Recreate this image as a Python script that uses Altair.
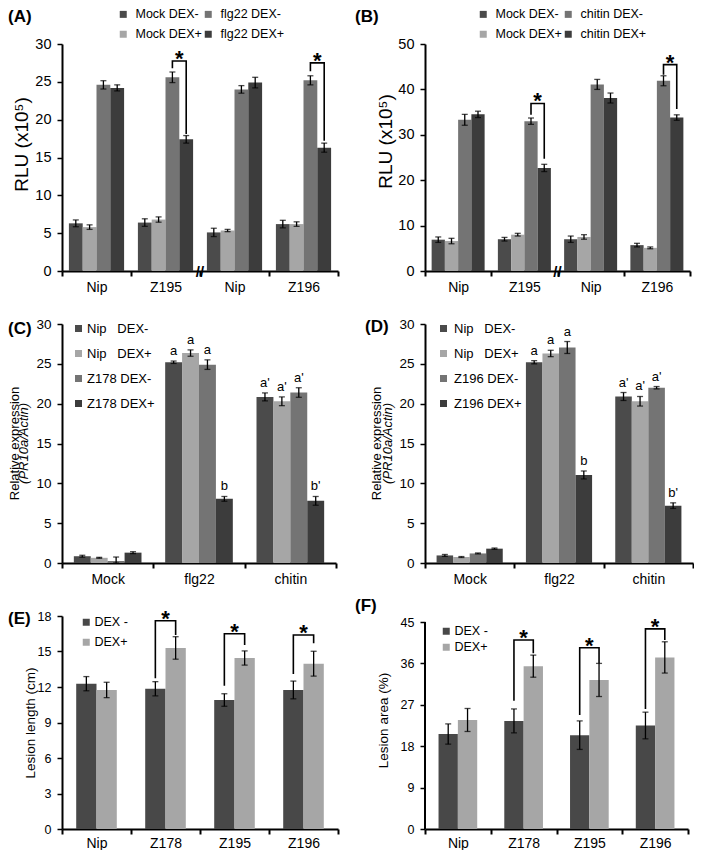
import altair as alt
import pandas as pd

FONT = "Liberation Sans"
NB = "\u00a0"

# ---------------- data ----------------
A_groups = ["Nip", "Z195", "Nip", "Z196"]
A_series = ["Mock DEX-", "Mock DEX+", "flg22 DEX-", "flg22 DEX+"]
A_values = [[6.3, 5.8, 24.6, 24.2], [6.4, 6.8, 25.6, 17.4],
            [5.1, 5.35, 24.0, 24.9], [6.2, 6.2, 25.2, 16.3]]
A_errors = [[0.45, 0.3, 0.55, 0.4], [0.5, 0.35, 0.7, 0.5],
            [0.55, 0.15, 0.5, 0.7], [0.5, 0.3, 0.6, 0.6]]
A_brackets = [(1, 2, 3, 26.8, 27.75, 18.1), (3, 2, 3, 26.4, 27.5, 17.2)]

B_groups = ["Nip", "Z195", "Nip", "Z196"]
B_series = ["Mock DEX-", "Mock DEX+", "chitin DEX-", "chitin DEX+"]
B_values = [[6.9, 6.6, 33.3, 34.5], [7.0, 8.0, 33.0, 22.7],
            [7.0, 7.5, 41.1, 38.1], [5.7, 5.1, 41.9, 33.8]]
B_errors = [[0.6, 0.6, 1.2, 0.7], [0.4, 0.3, 0.7, 0.8],
            [0.7, 0.5, 1.1, 1.1], [0.4, 0.2, 1.1, 0.6]]
B_brackets = [(1, 2, 3, 34.4, 36.9, 24.7), (3, 2, 3, 43.2, 45.45, 35.7)]

C_groups = ["Mock", "flg22", "chitin"]
C_series = ["Nip" + NB * 3 + "DEX-", "Nip" + NB * 3 + "DEX+", "Z178 DEX-", "Z178 DEX+"]
C_values = [[0.85, 0.65, 0.25, 1.3], [25.2, 26.35, 24.9, 8.05], [20.85, 20.3, 21.4, 7.8]]
C_errors = [[0.12, 0.06, 0.5, 0.12], [0.15, 0.4, 0.6, 0.3], [0.5, 0.55, 0.6, 0.55]]
C_letters = [["", "", "", ""], ["a", "a", "a", "b"], ["a'", "a'", "a'", "b'"]]

D_groups = ["Mock", "flg22", "chitin"]
D_series = ["Nip" + NB * 3 + "DEX-", "Nip" + NB * 3 + "DEX+", "Z196 DEX-", "Z196 DEX+"]
D_values = [[0.95, 0.75, 1.2, 1.8], [25.2, 26.3, 27.05, 11.05], [20.9, 20.3, 22.0, 7.2]]
D_errors = [[0.12, 0.06, 0.06, 0.08], [0.2, 0.4, 0.75, 0.5], [0.5, 0.6, 0.15, 0.35]]
D_letters = [["", "", "", ""], ["a", "a", "a", "b"], ["a'", "a'", "a'", "b'"]]

E_groups = ["Nip", "Z178", "Z195", "Z196"]
E_series = ["DEX -", "DEX+"]
E_values = [[12.28, 11.75], [11.85, 15.3], [10.9, 14.45], [11.75, 13.97]]
E_errors = [[0.6, 0.65], [0.6, 0.95], [0.53, 0.6], [0.75, 1.05]]
E_brackets = [(1, 0, 1, 12.75, 17.6, 16.4), (2, 0, 1, 12.1, 16.5, 15.55),
              (3, 0, 1, 13.1, 16.4, 15.7)]

F_groups = ["Nip", "Z178", "Z195", "Z196"]
F_series = ["DEX -", "DEX+"]
F_values = [[20.65, 23.7], [23.5, 35.4], [20.4, 32.4], [22.5, 37.3]]
F_errors = [[2.2, 2.5], [2.6, 2.4], [3.1, 3.6], [2.9, 3.4]]
F_brackets = [(1, 0, 1, 27.9, 41.1, 38.2), (2, 0, 1, 24.8, 39.4, 36.0),
              (3, 0, 1, 26.1, 43.5, 41.1)]

C4 = ["#4b4b4b", "#a6a6a6", "#747474", "#3c3c3c"]
C2 = ["#484848", "#a6a6a6"]


def panel(tag, groups, series, values, errors, colors, w, h, ydom, ymax, ystep,
          pad, legend_kw=None, brackets=(), letters=None,
          ytitle=None, ytitle_x=-40, ytitle_y=None, ytitle_size=14, ytitle2=None,
          tag_xy=(-56, -22), ylab_size=14, brk=False, axis_rule=False,
          xlab_pad=4):
    keys = [f"{i}|{g}" for i, g in enumerate(groups)]
    rows = []
    for gi, k in enumerate(keys):
        for si, s in enumerate(series):
            v = values[gi][si]
            e = errors[gi][si]
            rows.append(dict(g=k, s=s, v=v, lo=max(0.0, v - e), hi=v + e,
                             lab=(letters[gi][si] if letters else "")))
    df = pd.DataFrame(rows)

    xaxis = alt.Axis(title=None, labelExpr="split(datum.label, '|')[1]",
                     tickBand="extent", labelAngle=0, labelFontSize=14,
                     labelPadding=xlab_pad, tickSize=5, tickWidth=2, domainWidth=2)
    xscale = alt.Scale(domain=keys, paddingInner=0, paddingOuter=0)
    X = alt.X("g:N", scale=xscale, axis=xaxis)
    XO = alt.XOffset("s:N", scale=alt.Scale(domain=series, paddingInner=0,
                                            paddingOuter=pad))
    yvals = list(range(0, ymax + 1, ystep))
    yaxis_kw = dict(values=yvals, labelFontSize=ylab_size, labelPadding=6,
                    tickSize=5, tickWidth=1.5, domainWidth=2,
                    domain=not axis_rule)
    if ytitle:
        yaxis_kw.update(title=ytitle, titleFontSize=ytitle_size,
                        titleFontWeight="normal", titleX=ytitle_x,
                        titleY=(h / 2 if ytitle_y is None else ytitle_y),
                        titleAngle=270, titleAlign="center",
                        titleBaseline="middle")
    else:
        yaxis_kw.update(title=None)
    yaxis = alt.Axis(**yaxis_kw)
    yscale = alt.Scale(domain=[0, ydom], nice=False, zero=True)

    base = alt.Chart(df)
    bars = base.mark_bar().encode(
        x=X, xOffset=XO,
        y=alt.Y("v:Q", scale=yscale, axis=yaxis),
        color=alt.Color("s:N", scale=alt.Scale(domain=series, range=colors),
                        legend=alt.Legend(orient="none", title=None,
                                          symbolType="square",
                                          symbolStrokeWidth=0,
                                          labelFont=FONT, labelColor="black",
                                          **legend_kw)),
    )
    err = base.mark_rule(color="black", strokeWidth=1.3).encode(
        x=X, xOffset=XO, y=alt.Y("lo:Q", scale=yscale, axis=yaxis), y2="hi:Q")
    cap_hi = base.mark_tick(color="black", thickness=1.3, size=6,
                            orient="horizontal").encode(
        x=X, xOffset=XO, y=alt.Y("hi:Q", scale=yscale, axis=yaxis))
    cap_lo = base.mark_tick(color="black", thickness=1.3, size=6,
                            orient="horizontal").encode(
        x=X, xOffset=XO, y=alt.Y("lo:Q", scale=yscale, axis=yaxis))
    layers = [bars, err, cap_hi, cap_lo]

    step = (w / len(groups)) / (len(series) + 2 * pad)
    if brackets:
        brow, srow = [], []
        for bi, (gi, s1, s2, yl, yt, yr) in enumerate(brackets):
            k = keys[gi]
            brow += [dict(g=k, s=series[s1], y=yl, o=0, id=bi),
                     dict(g=k, s=series[s1], y=yt, o=1, id=bi),
                     dict(g=k, s=series[s2], y=yt, o=2, id=bi),
                     dict(g=k, s=series[s2], y=yr, o=3, id=bi)]
            srow.append(dict(g=k, s=series[s1], y=yt))
        bdf = pd.DataFrame(brow)
        layers.append(alt.Chart(bdf).mark_line(color="black", strokeWidth=1.6).encode(
            x=X, xOffset=XO, y=alt.Y("y:Q", scale=yscale, axis=yaxis),
            detail="id:N", order="o:Q"))
        layers.append(alt.Chart(pd.DataFrame(srow)).mark_text(
            text="*", fontSize=22, fontWeight="bold", font=FONT, dx=step / 2,
            dy=5, baseline="alphabetic", color="black").encode(
            x=X, xOffset=XO, y=alt.Y("y:Q", scale=yscale, axis=yaxis)))
    if letters:
        ldf = df[df["lab"] != ""]
        layers.append(alt.Chart(ldf).mark_text(
            fontSize=13, font=FONT, baseline="bottom", dy=-3, color="black").encode(
            x=X, xOffset=XO, y=alt.Y("hi:Q", scale=yscale, axis=yaxis),
            text="lab:N"))
    if brk:
        bk = pd.DataFrame([dict(g=keys[2], y=0)])
        layers.append(alt.Chart(bk).mark_text(
            text="//", fontSize=15, fontWeight="bold", font=FONT,
            baseline="middle", color="black", dy=1).encode(
            x=alt.X("g:N", bandPosition=0, scale=xscale, axis=xaxis),
            y=alt.Y("y:Q", scale=yscale, axis=yaxis)))
    if axis_rule:
        layers.append(alt.Chart(pd.DataFrame([dict(a=0, b=ymax)])).mark_rule(
            color="black", strokeWidth=2).encode(
            x=alt.value(0), y=alt.Y("a:Q", scale=yscale, axis=yaxis), y2="b:Q"))
    if ytitle2:
        layers.append(alt.Chart(pd.DataFrame([dict(t=ytitle2[0])])).mark_text(
            angle=270, align="center", baseline="middle", fontSize=13,
            font=FONT, color="black").encode(
            x=alt.value(ytitle2[2]), y=alt.value(h / 2), text="t:N"))
        layers.append(alt.Chart(pd.DataFrame([dict(t=ytitle2[1])])).mark_text(
            angle=270, align="center", baseline="middle", fontSize=13,
            font=FONT, fontStyle="italic", color="black").encode(
            x=alt.value(ytitle2[3]), y=alt.value(h / 2), text="t:N"))
    layers.append(alt.Chart(pd.DataFrame([dict(t=tag)])).mark_text(
        align="left", baseline="alphabetic", fontSize=17, fontWeight="bold",
        font=FONT, color="black").encode(
        x=alt.value(tag_xy[0]), y=alt.value(tag_xy[1]), text="t:N"))

    return alt.layer(*layers).properties(width=w, height=h)


A = panel("(A)", A_groups, A_series, A_values, A_errors, C4, 276, 227, 30, 30, 5, 0.5,
          legend_kw=dict(columns=2, legendX=55, legendY=-36, symbolSize=49,
                         labelFontSize=12.5, rowPadding=7, columnPadding=0,
                         labelOffset=6),
          brackets=A_brackets, ytitle="RLU (x10⁵)", ytitle_x=-41, ytitle_y=100,
          ytitle_size=19, tag_xy=(-54, -22), ylab_size=14.5, brk=True)
B = panel("(B)", B_groups, B_series, B_values, B_errors, C4, 265, 227, 50, 50, 10, 0.5,
          legend_kw=dict(columns=2, legendX=52, legendY=-36, symbolSize=49,
                         labelFontSize=12.5, rowPadding=7, columnPadding=0,
                         labelOffset=6),
          brackets=B_brackets, ytitle="RLU (x10⁵)", ytitle_x=-40, ytitle_y=97,
          ytitle_size=19, tag_xy=(-70, -22), ylab_size=14.5, brk=True)
C = panel("(C)", C_groups, C_series, C_values, C_errors, C4, 274, 239, 30, 30, 5, 0.7,
          legend_kw=dict(columns=1, direction="vertical", legendX=10, legendY=-2,
                         symbolSize=49, labelFontSize=13, rowPadding=11,
                         labelOffset=2),
          letters=C_letters, ytitle2=("Relative expression", "(PR10a/Actin)", -47, -38.5),
          tag_xy=(-54, 10), ylab_size=13.5)
D = panel("(D)", D_groups, D_series, D_values, D_errors, C4, 268, 239, 30, 30, 5, 0.7,
          legend_kw=dict(columns=1, direction="vertical", legendX=12, legendY=-2,
                         symbolSize=49, labelFontSize=13, rowPadding=11,
                         labelOffset=4),
          letters=D_letters, ytitle2=("Relative expression", "(PR10a/Actin)", -48, -37),
          tag_xy=(-60, 8), ylab_size=13.5)
E = panel("(E)", E_groups, E_series, E_values, E_errors, C2, 276, 213, 18, 18, 3, 0.7,
          legend_kw=dict(columns=1, direction="vertical", legendX=18, legendY=0,
                         symbolSize=49, labelFontSize=12.5, rowPadding=7,
                         labelOffset=2),
          brackets=E_brackets, ytitle="Lesion length (cm)", ytitle_x=-32,
          ytitle_size=13.5, tag_xy=(-54, 8), ylab_size=12.5, xlab_pad=2)
F = panel("(F)", F_groups, F_series, F_values, F_errors, C2, 263, 213,
          45 * 213 / 207, 45, 9, 0.7,
          legend_kw=dict(columns=1, direction="vertical", legendX=15, legendY=9,
                         symbolSize=49, labelFontSize=12.5, rowPadding=3,
                         labelOffset=2),
          brackets=F_brackets, ytitle="Lesion area (%)", ytitle_x=-42,
          ytitle_y=104, ytitle_size=13.5, tag_xy=(-70, -5), ylab_size=12.5,
          axis_rule=True, xlab_pad=2)

RES = dict(x="independent", y="independent", color="independent",
           xOffset="independent")
chart = alt.concat(A, B, C, D, E, F, columns=2,
                   spacing={"row": 53, "column": 87}, bounds="flush",
                   align="each").resolve_scale(**RES).properties(
    padding={"left": 0, "top": 0, "right": 0, "bottom": 0}
).configure_view(stroke=None).configure_axis(
    labelFont=FONT, titleFont=FONT, labelColor="black", titleColor="black",
    domainColor="black", tickColor="black", grid=False
).configure_text(font=FONT)

chart.save("out.html", embed_options={"renderer": "svg", "actions": False})
